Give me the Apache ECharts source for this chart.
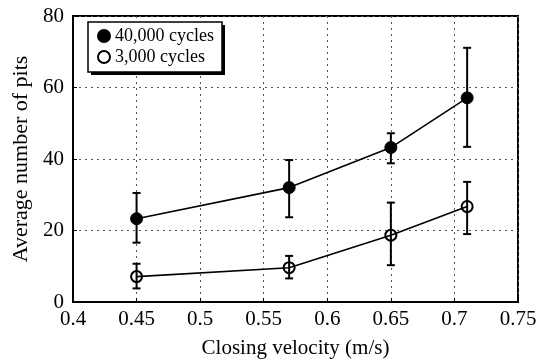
<!DOCTYPE html>
<html><head><meta charset="utf-8">
<script src="https://cdn.jsdelivr.net/npm/echarts@6/dist/echarts.min.js"></script>
<style>html,body{margin:0;padding:0;background:#fff}#c{width:547px;height:360px}</style>
</head><body><div id="c"></div>
<script>
var velocities = [0.45, 0.57, 0.65, 0.71];
var pits40k = [23.3, 32.0, 43.2, 57.1];
var err40kLow = [16.6, 23.7, 38.8, 43.4];
var err40kHigh = [30.5, 39.7, 47.2, 71.1];
var pits3k = [7.1, 9.6, 18.7, 26.7];
var err3kLow = [3.8, 6.6, 10.3, 19.0];
var err3kHigh = [10.7, 12.9, 27.8, 33.6];
var xTicks = [0.4, 0.45, 0.5, 0.55, 0.6, 0.65, 0.7, 0.75];
var yTicks = [0, 20, 40, 60, 80];

var chart = echarts.init(document.getElementById('c'));
function pairs(xs, ys){ return xs.map(function(x,i){return [x, ys[i]];}); }
function errData(xs, lo, hi){ return xs.map(function(x,i){return [x, lo[i], hi[i]];}); }
function errSeries(data){
  return {
    type:'custom', data:data, z:3, silent:true,
    renderItem:function(params, api){
      var x = api.value(0);
      var lo = api.coord([x, api.value(1)]);
      var hi = api.coord([x, api.value(2)]);
      var w = 4;
      var st = {stroke:'#000', lineWidth:2};
      return {type:'group', children:[
        {type:'line', shape:{x1:lo[0],y1:lo[1],x2:hi[0],y2:hi[1]}, style:st},
        {type:'line', shape:{x1:lo[0]-w,y1:lo[1],x2:lo[0]+w,y2:lo[1]}, style:st},
        {type:'line', shape:{x1:hi[0]-w,y1:hi[1],x2:hi[0]+w,y2:hi[1]}, style:st}
      ]};
    }
  };
}
var font = 'Liberation Serif';
chart.setOption({
  animation:false,
  backgroundColor:'#fff',
  grid:{left:73, right:29, top:16, bottom:58, show:true, borderColor:'#000', borderWidth:2,
    containLabel:false, outerBoundsMode:'none'},
  graphic:[
    {type:'rect', z:3, shape:{x:91, y:25, width:134, height:50}, style:{fill:'#000'}},
    {type:'rect', z:3, shape:{x:88, y:22, width:134, height:50}, style:{fill:'#fff', stroke:'#000', lineWidth:1.5}}
  ],
  legend:{
    left:97, top:27, orient:'vertical', itemGap:3, itemWidth:12, itemHeight:12,
    padding:0, z:5,
    textStyle:{fontFamily:font, fontSize:18, color:'#000'},
    data:[{name:'40,000 cycles', icon:'circle'}, {name:'3,000 cycles', icon:'circle'}]
  },
  xAxis:{
    type:'value', min:0.4, max:0.75, interval:0.05,
    name:'Closing velocity (m/s)', nameLocation:'middle', nameGap:36,
    nameTextStyle:{fontFamily:font, fontSize:21, color:'#000'},
    axisLine:{show:true, lineStyle:{color:'#000', width:2}},
    axisTick:{show:true, inside:true, length:4, lineStyle:{color:'#000'}},
    axisLabel:{fontFamily:font, fontSize:21, color:'#000', margin:7,
      formatter:function(v){ var t = Math.round(v*100)/100; return xTicks.indexOf(t)>=0 ? String(t) : ''; }},
    splitLine:{show:true, lineStyle:{color:'#555', type:[2,4], width:1}}
  },
  yAxis:{
    type:'value', min:0, max:80, interval:20,
    name:'Average number of pits', nameLocation:'middle', nameGap:40,
    nameTextStyle:{fontFamily:font, fontSize:22, color:'#000'},
    axisLine:{show:true, lineStyle:{color:'#000', width:2}},
    axisTick:{show:true, inside:true, length:4, lineStyle:{color:'#000'}},
    axisLabel:{fontFamily:font, fontSize:21, color:'#000', margin:9,
      formatter:function(v){ return yTicks.indexOf(v)>=0 ? String(v) : ''; }},
    splitLine:{show:true, lineStyle:{color:'#555', type:[2,4], width:1}}
  },
  series:[
    errSeries(errData(velocities, err40kLow, err40kHigh)),
    errSeries(errData(velocities, err3kLow, err3kHigh)),
    {name:'40,000 cycles', type:'line', data:pairs(velocities, pits40k), z:4,
      symbol:'circle', symbolSize:12, lineStyle:{color:'#000', width:1.6},
      itemStyle:{color:'#000', borderColor:'#000', borderWidth:1}},
    {name:'3,000 cycles', type:'line', data:pairs(velocities, pits3k), z:2,
      symbol:'circle', symbolSize:11, lineStyle:{color:'#000', width:1.6},
      itemStyle:{color:'rgba(255,255,255,0)', borderColor:'#000', borderWidth:2}}
  ]
});
</script></body></html>
